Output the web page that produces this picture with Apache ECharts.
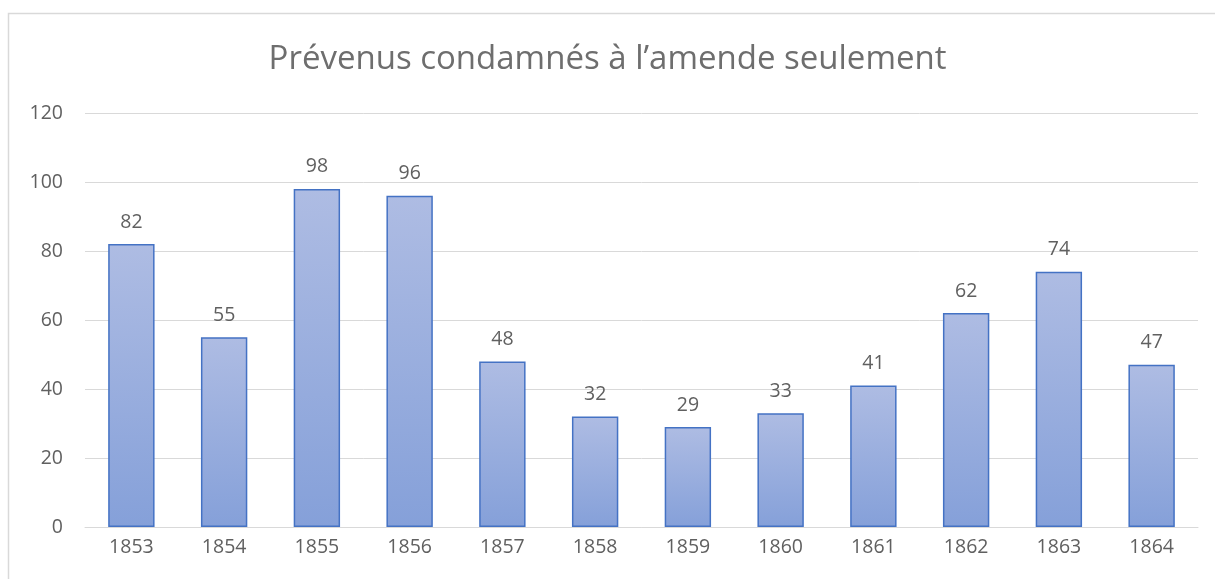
<!DOCTYPE html>
<html>
<head>
<meta charset="utf-8">
<script src="https://cdn.jsdelivr.net/npm/echarts@6/dist/echarts.min.js"></script>
<style>
  html, body { margin: 0; padding: 0; background: #fff; }
  #chart { width: 1215px; height: 579px; }
</style>
</head>
<body>
<div id="chart"></div>
<script>
// data
const years = ['1853', '1854', '1855', '1856', '1857', '1858', '1859', '1860', '1861', '1862', '1863', '1864']
const condamnes = [82, 55, 98, 96, 48, 32, 29, 33, 41, 62, 74, 47]
const titleText = 'Prévenus condamnés à l’amende seulement'

const chart = echarts.init(document.getElementById('chart'))
const font = 'Open Sans'
chart.setOption({
  animation: false,
  // light frame around the chart area
  graphic: [{
    type: 'rect',
    shape: { x: 8.5, y: 13.5, width: 1400, height: 800 },
    style: { fill: 'none', stroke: '#d9d9d9', lineWidth: 1.5 },
    silent: true
  }],
  title: {
    text: titleText,
    left: 'center',
    top: 38,
    textStyle: { fontFamily: font, fontSize: 33, fontWeight: 'normal', color: '#6e6e6e' }
  },
  grid: { left: 85, right: 17, top: 113, bottom: 52 },
  xAxis: {
    type: 'category',
    data: years,
    axisTick: { show: false },
    axisLine: { lineStyle: { color: '#d9d9d9', width: 1 } },
    axisLabel: { fontFamily: font, fontSize: 19.5, color: '#606060', margin: 10 }
  },
  yAxis: {
    type: 'value',
    min: 0,
    max: 120,
    interval: 20,
    axisLine: { show: false },
    axisTick: { show: false },
    splitLine: { lineStyle: { color: '#d9d9d9', width: 1 } },
    axisLabel: { fontFamily: font, fontSize: 19.5, color: '#606060', margin: 22 }
  },
  series: [{
    type: 'bar',
    data: condamnes,
    barWidth: '50%',
    itemStyle: {
      color: new echarts.graphic.LinearGradient(0, 0, 0, 1, [
        { offset: 0, color: '#aebce3' },
        { offset: 1, color: '#85a0d9' }
      ]),
      borderColor: '#4472c4',
      borderWidth: 1.5
    },
    label: {
      show: true,
      position: 'top',
      distance: 12,
      fontFamily: font,
      fontSize: 19.5,
      color: '#606060'
    }
  }]
})
</script>
</body>
</html>
